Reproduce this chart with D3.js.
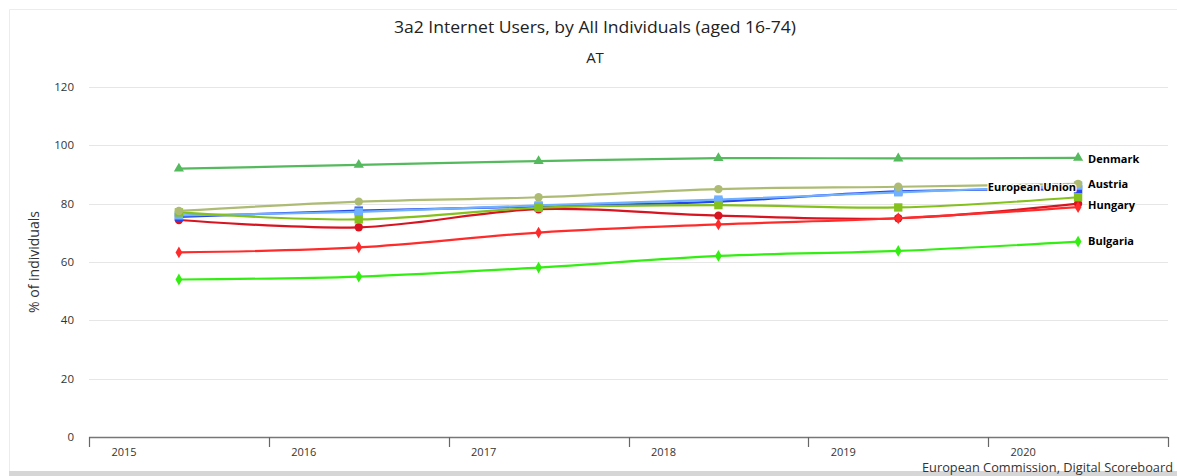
<!DOCTYPE html>
<html><head><meta charset="utf-8">
<script src="https://cdn.jsdelivr.net/npm/d3@7"></script>
<style>
html,body{margin:0;padding:0;background:#fff;}
svg{display:block;}
</style></head>
<body><div id="chart"></div>
<script>
// ---- data ----
const years = ["2015","2016","2017","2018","2019","2020"];
const yTicks = [0,20,40,60,80,100,120];
const denmark   = [92.0, 93.3, 94.6, 95.6, 95.5, 95.7];
const austria   = [77.5, 80.7, 82.2, 85.0, 85.8, 86.8];
const euLight   = [76.0, 77.2, 79.4, 81.4, 83.9, 86.2];
const euDark    = [75.5, 77.6, 79.0, 80.7, 84.2, 84.9];
const olive     = [77.0, 74.6, 78.6, 79.5, 78.7, 82.2];
const hungary   = [74.4, 71.9, 78.1, 75.9, 75.0, 80.0];
const redSeries = [63.3, 65.0, 70.1, 72.9, 75.0, 78.8];
const bulgaria  = [54.0, 55.0, 58.1, 62.1, 63.8, 67.0];

const seriesList = [
  {name:"Hungary",        values:hungary,   label:"Hungary",        color:"#d7141f", marker:"circle"},
  {name:"Other (red)",    values:redSeries, label:null,             color:"#ff2b2b", marker:"diamond"},
  {name:"Bulgaria",       values:bulgaria,  label:"Bulgaria",       color:"#33ee11", marker:"diamond"},
  {name:"EU (dark)",      values:euDark,    label:null,             color:"#2447f0", marker:"square"},
  {name:"European Union", values:euLight,   label:"European Union", color:"#6fb0ff", marker:"square"},
  {name:"Other (olive)",  values:olive,     label:null,             color:"#84c11c", marker:"square"},
  {name:"Austria",        values:austria,   label:"Austria",        color:"#adbc72", marker:"circle"},
  {name:"Denmark",        values:denmark,   label:"Denmark",        color:"#55b95d", marker:"triangle"}
];

const W = 1177, H = 476;
const plot = {left:89, right:1168, top:87, bottom:437};

const svg = d3.select("#chart").append("svg").attr("width",W).attr("height",H);
svg.append("rect").attr("width",W).attr("height",H).attr("fill","#fff");

// frame
svg.append("path").attr("d","M9.5,480 V9.5 H1190").attr("fill","none").attr("stroke","#ececec");
svg.append("rect").attr("x",9).attr("y",471).attr("width",W-9).attr("height",6).attr("fill","#d6d6d6");

const x = d3.scaleBand().domain(years).range([plot.left, plot.right]).padding(0);
const y = d3.scaleLinear().domain([0,120]).range([plot.bottom, plot.top]);
const cx = d => x(d) + x.bandwidth()/2;

// grid
svg.append("g").selectAll("line").data(yTicks.filter(t=>t>0)).join("line")
  .attr("x1",plot.left).attr("x2",plot.right)
  .attr("y1",d=>Math.round(y(d))+0.5).attr("y2",d=>Math.round(y(d))+0.5)
  .attr("stroke","#e6e6e6").attr("stroke-width",1);

// y labels
svg.append("g").selectAll("text").data(yTicks).join("text")
  .attr("x",74).attr("y",d=>y(d)).attr("dy","0.35em")
  .attr("text-anchor","end").attr("font-family","Open Sans, sans-serif")
  .attr("font-size","11.5px").attr("fill","#333").text(d=>d);

// y title
svg.append("text").attr("transform","translate(39,262) rotate(-90)")
  .attr("text-anchor","middle").attr("font-family","Open Sans, sans-serif")
  .attr("font-size","14px").attr("fill","#333").text("% of individuals");

// x axis
const xAxis = svg.append("g");
xAxis.append("line").attr("x1",plot.left).attr("x2",plot.right)
  .attr("y1",plot.bottom+0.5).attr("y2",plot.bottom+0.5).attr("stroke","#777").attr("stroke-width",1.5);
const tickPos = years.map(d=>x(d)).concat([plot.right]);
xAxis.selectAll("line.tick").data(tickPos).join("line").attr("class","tick")
  .attr("x1",d=>Math.round(d)+0.5).attr("x2",d=>Math.round(d)+0.5)
  .attr("y1",plot.bottom).attr("y2",plot.bottom+10).attr("stroke","#666").attr("stroke-width",1.2);
xAxis.selectAll("text").data(years).join("text")
  .attr("x",d=>x(d)+35).attr("y",456).attr("text-anchor","middle")
  .attr("font-family","Open Sans, sans-serif").attr("font-size","11px").attr("fill","#333").text(d=>d);

// lines
const line = d3.line().x((d,i)=>cx(years[i])).y(d=>y(d)).curve(d3.curveCatmullRom.alpha(0.5));
const sym = {circle:d3.symbolCircle, square:d3.symbolSquare, diamond:d3.symbolDiamond, triangle:d3.symbolTriangle};
const size = {circle:55, square:70, diamond:40, triangle:45};

seriesList.forEach(s=>{
  const g = svg.append("g");
  g.append("path").attr("d",line(s.values)).attr("fill","none")
    .attr("stroke",s.color).attr("stroke-width",2.2).attr("stroke-linejoin","round");
  g.selectAll("path.m").data(s.values).join("path").attr("class","m")
    .attr("transform",(d,i)=>`translate(${cx(years[i])},${y(d)})`)
    .attr("d",d3.symbol().type(sym[s.marker]).size(size[s.marker]))
    .attr("fill",s.color);
});

// series labels
const labelPos = {
  "Denmark":        {dx:10, dy:1, anchor:"start"},
  "Austria":        {dx:10, dy:0, anchor:"start"},
  "European Union": {dx:-2, dy:2, anchor:"end"},
  "Hungary":        {dx:10, dy:1, anchor:"start"},
  "Bulgaria":       {dx:10, dy:0, anchor:"start"}
};
const last = years.length-1;
seriesList.filter(s=>s.label).forEach(s=>{
  const p = labelPos[s.label];
  svg.append("text").attr("x",cx(years[last])+p.dx).attr("y",y(s.values[last])+p.dy)
    .attr("dy","0.35em").attr("text-anchor",p.anchor)
    .attr("font-family","Open Sans, sans-serif").attr("font-weight","bold").attr("font-size","11px")
    .attr("fill","#000").attr("stroke","#fff").attr("stroke-width",2.5).attr("paint-order","stroke")
    .attr("stroke-linejoin","round").text(s.label);
});

// titles
svg.append("text").attr("x",595).attr("y",33).attr("text-anchor","middle")
  .attr("font-family","Liberation Sans Narrow, Open Sans, sans-serif").attr("font-size","16px")
  .attr("fill","#222").attr("textLength",402).attr("lengthAdjust","spacingAndGlyphs")
  .text("3a2 Internet Users, by All Individuals (aged 16-74)");
svg.append("text").attr("x",595).attr("y",63).attr("text-anchor","middle")
  .attr("font-family","Liberation Sans Narrow, Open Sans, sans-serif").attr("font-size","15px")
  .attr("fill","#222").text("AT");

// credits
svg.append("text").attr("x",1173).attr("y",472).attr("text-anchor","end")
  .attr("font-family","Open Sans, sans-serif").attr("font-size","12px").attr("fill","#333")
  .attr("textLength",251).attr("lengthAdjust","spacingAndGlyphs")
  .text("European Commission, Digital Scoreboard");
</script></body></html>
